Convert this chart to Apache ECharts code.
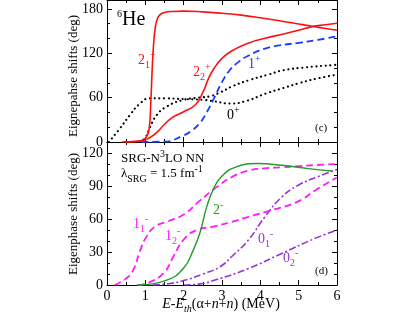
<!DOCTYPE html>
<html><head><meta charset="utf-8">
<script src="https://cdn.jsdelivr.net/npm/echarts@6/dist/echarts.min.js"></script>
<style>html,body{margin:0;padding:0;background:#fff}#c{width:409px;height:316px}</style>
</head><body><div id="c"></div>
<script>
// ---------- data (E in MeV, phase in degrees) ----------
const xTicks = [0, 1, 2, 3, 4, 5, 6];
const topYTicks = [0, 60, 120, 180];
const botYTicks = [0, 30, 60, 90, 120];

// panel (c): 6He positive parity
const E_2p1 = [0.4, 0.7, 0.9, 1.03, 1.10, 1.14, 1.18, 1.22, 1.26, 1.31, 1.38, 1.5, 1.7, 2.0, 2.5, 3.0, 3.5, 4.0, 4.5, 5.0, 5.35, 5.7, 6.0];
const D_2p1 = [0, 0.5, 2, 7, 18, 50, 100, 135, 155, 166, 172, 175, 176.5, 177, 176, 174, 171.5, 168, 164, 159.5, 156.5, 153.5, 151];
const E_2p2 = [0.5, 0.9, 1.12, 1.3, 1.5, 1.7, 2.0, 2.3, 2.5, 2.65, 2.8, 3.0, 3.25, 3.7, 4.1, 4.6, 5.0, 5.35, 5.7, 6.0];
const D_2p2 = [0, 1.5, 6, 13, 24, 33, 41, 50, 67, 86, 100, 113, 123, 134, 140, 146, 151, 156, 158.5, 160.5];
const E_1p = [0.9, 1.5, 2.0, 2.2, 2.43, 2.6, 2.8, 3.0, 3.2, 3.45, 3.7, 4.1, 4.5, 5.0, 5.5, 6.0];
const D_1p = [0, 0.5, 9, 15, 26, 40, 60, 81, 97, 109, 117, 126, 130.5, 134, 138, 143];
const E_0pa = [0.05, 0.34, 0.6, 0.86, 1.12, 1.5, 2.0, 2.5, 2.8, 3.2, 3.6, 4.17, 4.6, 5.04, 5.5, 6.0];
const D_0pa = [0, 18.5, 36.5, 52, 59, 59, 58, 57, 55, 52, 55, 66, 73, 80, 86, 91];
const E_0pb = [0.85, 1.0, 1.12, 1.3, 1.56, 2.0, 2.4, 2.7, 2.95, 3.3, 3.73, 4.2, 4.6, 5.2, 5.9, 6.0];
const D_0pb = [0, 6, 20, 36.5, 48, 57, 60, 62, 67, 76, 84, 91, 97, 101, 104, 104.5];

// panel (d): negative parity
const E_1m1 = [0.2, 0.5, 0.69, 0.86, 1.03, 1.25, 1.56, 2.0, 2.4, 2.86, 3.25, 3.69, 4.1, 4.56, 5.0, 5.43, 6.0];
const D_1m1 = [0, 6, 14, 31, 44, 53, 57.5, 64, 76, 89, 98, 104, 106, 107, 108, 109, 110];
const E_1m2 = [0.8, 1.03, 1.47, 1.73, 1.99, 2.34, 2.77, 3.25, 3.69, 4.3, 4.99, 5.43, 5.95, 6.0];
const D_1m2 = [0, 1.5, 10.6, 25.7, 40.8, 50, 53, 57.4, 62, 68, 76, 86, 96.8, 97.5];
const E_2m = [0.8, 1.56, 1.99, 2.25, 2.43, 2.6, 2.8, 3.0, 3.34, 3.95, 4.56, 5.25, 5.85];
const D_2m = [0, 4.5, 15, 31.7, 48, 71, 89, 99, 107, 110.4, 108.8, 105.8, 103.7];
const E_0m1 = [1.2, 1.56, 2.0, 2.5, 2.95, 3.25, 3.69, 4.12, 4.56, 4.99, 5.5, 6.0];
const D_0m1 = [0, 1, 4, 10, 16.6, 25.7, 41, 62, 80, 90.7, 98.5, 105];
const E_0m2 = [2.0, 2.43, 2.82, 3.69, 4.56, 5.43, 6.0];
const D_0m2 = [0, 1, 4.5, 15, 28.7, 42.4, 50];

// ---------- chart ----------
const F = 'Liberation Serif';
const zip = (a, b) => a.map((v, i) => [v, b[i]]);
const chart = echarts.init(document.getElementById('c'), null, {renderer: 'canvas'});

function xAx(grid, pos, labels) {
  return {
    type: 'value', gridIndex: grid, position: pos, min: 0, max: 6, interval: 1,
    axisLine: {show: true, onZero: false, lineStyle: {color: '#000', width: 1}},
    axisTick: {show: true, inside: true, length: 5, lineStyle: {color: '#000'}},
    minorTick: {show: true, splitNumber: 2, length: 3, lineStyle: {color: '#000'}},
    splitLine: {show: false},
    axisLabel: {show: labels, margin: 4, fontFamily: F, fontSize: 14, color: '#000',
      formatter: v => xTicks.includes(v) ? String(v) : ''}
  };
}
function yAx(grid, pos, max, step, major, ticks, labels) {
  const a = {
    type: 'value', gridIndex: grid, position: pos, min: 0, max: max, interval: step,
    axisLine: {show: true, onZero: false, lineStyle: {color: '#000', width: 1}},
    axisTick: {show: true, inside: true, length: 3, lineStyle: {color: '#000'}},
    splitLine: {show: false},
    axisLabel: {show: labels, margin: 4, fontFamily: F, fontSize: 14, color: '#000',
      showMaxLabel: true, formatter: v => ticks.includes(v) ? String(v) : ''}
  };
  const b = {
    type: 'value', gridIndex: grid, position: pos, min: 0, max: max, interval: major,
    axisLine: {show: false, onZero: false},
    axisTick: {show: true, inside: true, length: 5, lineStyle: {color: '#000'}},
    splitLine: {show: false}, axisLabel: {show: false}
  };
  return [a, b];
}

const xAxis = [xAx(0, 'bottom', false), xAx(0, 'top', false), xAx(1, 'bottom', true), xAx(1, 'top', false)];
const yAxis = [].concat(
  yAx(0, 'left', 192, 20, 60, topYTicks, true),
  yAx(0, 'right', 192, 20, 60, topYTicks, false),
  yAx(1, 'left', 130, 10, 30, botYTicks, true),
  yAx(1, 'right', 130, 10, 30, botYTicks, false)
);

function line(E, D, color, type, width, panel, cap) {
  return {
    type: 'line', data: zip(E, D), xAxisIndex: panel ? 2 : 0, yAxisIndex: panel ? 4 : 0,
    showSymbol: false, symbol: 'none', smooth: 0.5, silent: true,
    lineStyle: {color: color, type: type, width: width, cap: cap || 'butt', join: 'round'},
    animation: false
  };
}
const RED = '#ff1010', BLUE = '#1a3cff', MAG = '#ff1aff', GRN = '#1f9e2a', PUR = '#9433d6';
const DOT = [0.1, 4.6], DASH = [7, 4], DDOT = [7, 2.5, 2, 2.5];

const series = [
  line(E_0pa, D_0pa, '#000', DOT, 2.1, 0, 'round'),
  line(E_0pb, D_0pb, '#000', DOT, 2.1, 0, 'round'),
  line(E_1p, D_1p, BLUE, DASH, 1.8, 0),
  line(E_2p2, D_2p2, RED, 'solid', 1.6, 0, 'round'),
  line(E_2p1, D_2p1, RED, 'solid', 1.6, 0, 'round'),
  line(E_0m2, D_0m2, PUR, DDOT, 1.6, 1),
  line(E_0m1, D_0m1, PUR, DDOT, 1.6, 1),
  line(E_1m2, D_1m2, MAG, DASH, 1.8, 1),
  line(E_1m1, D_1m1, MAG, DASH, 1.8, 1),
  line(E_2m, D_2m, GRN, 'solid', 1.4, 1, 'round')
];

function R(x, y, text, color, align, rot) {
  const el = {
    type: 'text', x: x, y: y, silent: true, z: 100,
    style: {
      text: text, fill: color, textAlign: align || 'left', textVerticalAlign: 'middle',
      fontFamily: F, fontSize: 14,
      rich: {
        m: {fontFamily: F, fontSize: 14, lineHeight: 20, verticalAlign: 'middle', fill: color},
        y: {fontFamily: F, fontSize: 13, lineHeight: 20, verticalAlign: 'middle', fill: color},
        b: {fontFamily: F, fontSize: 20, lineHeight: 22, verticalAlign: 'middle', fill: color},
        n: {fontFamily: F, fontSize: 13, lineHeight: 20, verticalAlign: 'middle', fill: color},
        i: {fontFamily: F, fontSize: 14, fontStyle: 'italic', lineHeight: 20, verticalAlign: 'middle', fill: color},
        d: {fontFamily: F, fontSize: 10, lineHeight: 10, verticalAlign: 'bottom', fill: color},
        di: {fontFamily: F, fontSize: 10, fontStyle: 'italic', lineHeight: 10, verticalAlign: 'bottom', fill: color},
        u: {fontFamily: F, fontSize: 10, lineHeight: 10, verticalAlign: 'top', fill: color},
        s: {fontFamily: F, fontSize: 11, lineHeight: 20, verticalAlign: 'middle', fill: color}
      }
    }
  };
  if (rot) el.rotation = rot;
  return el;
}

const graphic = [
  R(117, 20, '{u|6}{b|He}', '#000'),
  R(138, 60, '{m|2}{d|1}{u|+}', RED),
  R(193, 72, '{m|2}{d|2}{u|+}', RED),
  R(248, 64, '{m|1}{u|+}', BLUE),
  R(227, 115, '{m|0}{u|+}', '#000'),
  R(315, 128, '{s|(c)}', '#000'),
  R(121, 159, '{n|SRG-N}{u|3}{n|LO NN}', '#000'),
  R(121, 174, '{n|λ}{d|SRG}{n| = 1.5 fm}{u|-1}', '#000'),
  R(133, 224, '{m|1}{d|1}{u|-}', MAG),
  R(165, 236, '{m|1}{d|2}{u|-}', MAG),
  R(213, 210, '{m|2}{u|-}', GRN),
  R(258, 239, '{m|0}{d|1}{u|-}', PUR),
  R(283, 258, '{m|0}{d|2}{u|-}', PUR),
  R(315, 271, '{s|(d)}', '#000'),
  R(221, 304, '{i|E}{m|-}{i|E}{di|th}{m|(α+}{i|n}{m|+}{i|n}{m|) (MeV)}', '#000', 'center'),
  R(74, 76, '{y|Eignepahse shifts (deg)}', '#000', 'center', Math.PI / 2),
  R(74, 214, '{y|Eigenphase shifts (deg)}', '#000', 'center', Math.PI / 2)
];

chart.setOption({
  animation: false,
  backgroundColor: '#fff',
  grid: [
    {left: 107, width: 230, top: 0, height: 142, containLabel: false, outerBoundsMode: 'none'},
    {left: 107, width: 230, top: 142, height: 143, containLabel: false, outerBoundsMode: 'none'}
  ],
  xAxis: xAxis,
  yAxis: yAxis,
  series: series,
  graphic: graphic
});
</script></body></html>
